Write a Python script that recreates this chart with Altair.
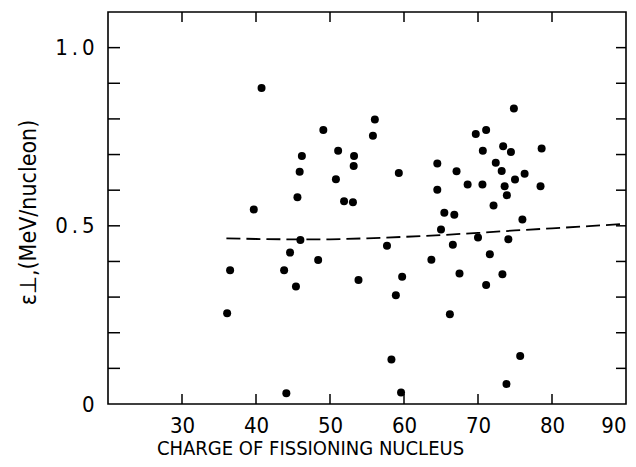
import altair as alt
import pandas as pd

# Scatter data
z_vals = [40.75, 49.1, 56.06, 55.8, 46.2, 51.1, 53.25, 45.9, 53.2, 50.8, 45.6, 51.9, 53.1, 39.7,
          74.85, 69.7, 71.1, 73.4, 74.45, 70.65, 78.6, 64.5, 72.4, 67.1, 73.2, 76.3, 59.3, 75.0,
          68.6, 70.6, 73.6, 78.45, 64.5, 73.9, 72.1, 65.45, 66.8, 76.0, 65.0, 70.0, 74.1, 57.7,
          66.6, 63.7, 71.6, 59.75, 67.5, 73.3, 71.1, 58.9, 66.2, 58.3, 75.7, 73.85, 59.6,
          46.0, 44.6, 36.5, 43.8, 48.4, 53.85, 45.4, 36.1, 44.1]
eps_vals = [0.887, 0.769, 0.798, 0.753, 0.696, 0.711, 0.696, 0.652, 0.668, 0.631, 0.580, 0.569, 0.566, 0.546,
            0.829, 0.758, 0.769, 0.723, 0.707, 0.711, 0.717, 0.675, 0.677, 0.653, 0.654, 0.646, 0.648, 0.630,
            0.616, 0.616, 0.611, 0.611, 0.601, 0.586, 0.557, 0.537, 0.531, 0.518, 0.490, 0.467, 0.462, 0.444,
            0.447, 0.405, 0.420, 0.357, 0.366, 0.364, 0.334, 0.305, 0.252, 0.125, 0.135, 0.056, 0.032,
            0.460, 0.425, 0.375, 0.375, 0.404, 0.348, 0.330, 0.255, 0.030]

# Dashed curve
curve_z = [36, 40, 45, 50, 55, 60, 65, 70, 75, 80, 85, 90]
curve_eps = [0.465, 0.463, 0.462, 0.462, 0.465, 0.469, 0.474, 0.480, 0.487, 0.493, 0.499, 0.506]

# Tick values
x_ticks = [30, 40, 50, 60, 70, 80]
x_labels = [30, 40, 50, 60, 70, 80, 90]
y_ticks = [0.1, 0.2, 0.3, 0.4, 0.5, 0.6, 0.7, 0.8, 0.9, 1.0]
y_labels = [0, 0.5, 1.0]

W, H = 518, 392
FONT = "DejaVu Sans Condensed, DejaVu Sans"

pts = pd.DataFrame({"z": z_vals, "eps": eps_vals})
crv = pd.DataFrame({"z": curve_z, "eps": curve_eps})
xt = pd.DataFrame({"z": x_ticks})
yt = pd.DataFrame({"eps": y_ticks})

xscale = alt.Scale(domain=[20, 90], nice=False, zero=False)
yscale = alt.Scale(domain=[0, 1.1], nice=False, zero=False)

xaxis = alt.Axis(values=x_labels, domain=False, ticks=False, grid=False,
                 labelFontSize=22, labelPadding=11, labelColor="black", labelFont=FONT,
                 labelFlush=True,
                 title="CHARGE OF FISSIONING NUCLEUS", titleFontSize=20, titleFont=FONT,
                 titleFontWeight="normal", titleColor="black",
                 titleX=202, titleY=50, titleAlign="center", titleBaseline="alphabetic")
yaxis = alt.Axis(values=y_labels, domain=False, ticks=False, grid=False,
                 labelExpr="datum.value == 0 ? '0' : replace(format(datum.value, '.1f'), '.', '\u2009.\u2009')",
                 labelFontSize=22, labelPadding=14, labelColor="black", labelFont=FONT,
                 title="ε⊥,(MeV/nucleon)", titleFontSize=23, titleFont=FONT,
                 titleFontWeight="normal", titleColor="black",
                 titleX=-80, titleY=200, titleAlign="center", titleBaseline="middle")

points = alt.Chart(pts).mark_circle(size=64, color="black", opacity=1).encode(
    x=alt.X("z:Q", scale=xscale, axis=xaxis),
    y=alt.Y("eps:Q", scale=yscale, axis=yaxis),
)

line = alt.Chart(crv).mark_line(color="black", strokeWidth=1.8, strokeDash=[14, 6]).encode(
    x=alt.X("z:Q", scale=xscale),
    y=alt.Y("eps:Q", scale=yscale),
)

bottom_ticks = alt.Chart(xt).mark_rule(color="black", strokeWidth=1.5).encode(
    x=alt.X("z:Q", scale=xscale), y=alt.value(H), y2=alt.value(H - 10))
top_ticks = alt.Chart(xt).mark_rule(color="black", strokeWidth=1.5).encode(
    x=alt.X("z:Q", scale=xscale), y=alt.value(0), y2=alt.value(10))
left_ticks = alt.Chart(yt).mark_rule(color="black", strokeWidth=1.5).encode(
    y=alt.Y("eps:Q", scale=yscale), x=alt.value(0), x2=alt.value(12))
right_ticks = alt.Chart(yt).mark_rule(color="black", strokeWidth=1.5).encode(
    y=alt.Y("eps:Q", scale=yscale), x=alt.value(W), x2=alt.value(W - 10))

chart = alt.layer(points, line, bottom_ticks, top_ticks, left_ticks, right_ticks).properties(
    width=W, height=H,
    autosize=alt.AutoSizeParams(type="none"),
    padding={"left": 100, "top": 4, "right": 2, "bottom": 55},
    background="white",
).configure_view(stroke="black", strokeWidth=1.6)

chart.save("out.html", embed_options={"renderer": "svg", "actions": False})
